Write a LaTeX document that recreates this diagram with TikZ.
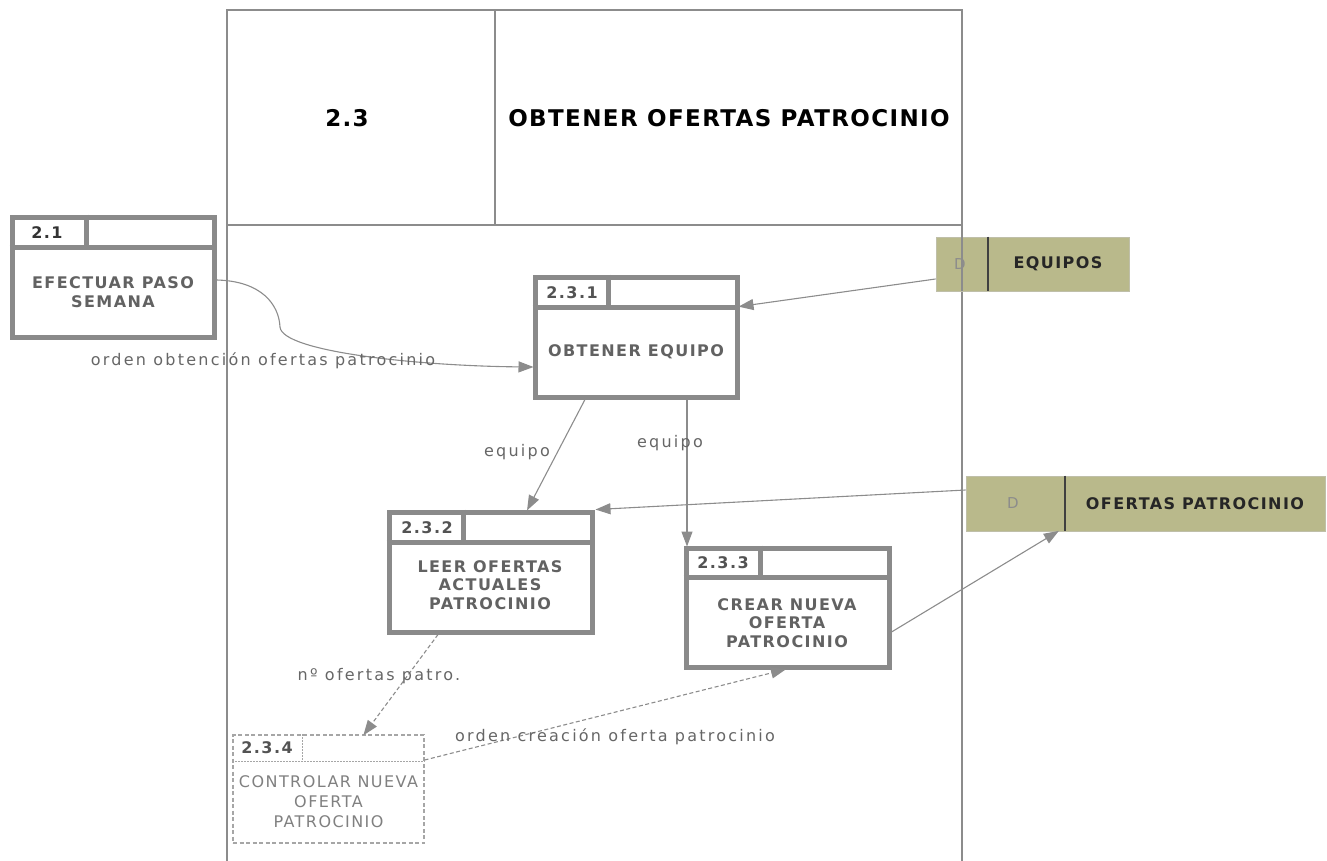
\documentclass[tikz,border=0pt]{standalone}
\usepackage{fontspec}
\setmainfont{DejaVu Sans}
\newfontfamily\boxfont[LetterSpace=9]{DejaVu Sans}
\newfontfamily\labelfont[LetterSpace=14]{DejaVu Sans}
\newfontfamily\titlefont[LetterSpace=6]{DejaVu Sans}
\usetikzlibrary{arrows.meta,calc}

\definecolor{framegray}{HTML}{8C8C8C}
\definecolor{boxgray}{HTML}{8A8A8A}
\definecolor{ctrlgray}{HTML}{A6A6A6}
\definecolor{textgray}{HTML}{626262}
\definecolor{labelgray}{HTML}{666666}
\definecolor{olive}{HTML}{B9B98B}

\tikzset{
  framebox/.style={draw=framegray, line width=1.4pt},
  procbox/.style={draw=boxgray, line width=5pt, fill=white, inner sep=0pt},
  procline/.style={draw=boxgray, line width=5pt},
  ctrlbox/.style={draw=ctrlgray, line width=1.1pt, dash pattern=on 4pt off 2.5pt, inner sep=0pt},
  ctrlline/.style={draw=ctrlgray, line width=1.1pt, dash pattern=on 1.5pt off 1.5pt},
  storebox/.style={fill=olive, draw=olive!80!black!60, line width=0.8pt, inner sep=0pt},
  storeline/.style={draw=black!75, line width=2pt},
  numtext/.style={font=\boxfont\bfseries\fontsize{16}{18}\selectfont, text=textgray!85!black, inner sep=0pt},
  bodytext/.style={font=\boxfont\bfseries\fontsize{16}{18.5}\selectfont, text=textgray, align=center, inner sep=0pt},
  ctrltext/.style={font=\boxfont\fontsize{16}{20}\selectfont, text=black!50, align=center, inner sep=0pt},
  titletext/.style={font=\titlefont\bfseries\fontsize{23}{26}\selectfont, text=black, inner sep=0pt},
  storetext/.style={font=\boxfont\bfseries\fontsize{16}{18}\selectfont, text=black!85, inner sep=0pt},
  dtext/.style={font=\boxfont\fontsize{15}{17}\selectfont, text=black!45, inner sep=0pt},
  flowlabel/.style={font=\labelfont\fontsize{16}{18}\selectfont, text=labelgray, inner sep=0pt},
  flow/.style={draw=framegray, line width=1.1pt, -{Triangle[length=15pt,width=11pt]}, shorten >=-1pt},
  ctrlflow/.style={flow, dash pattern=on 4pt off 2.5pt},
}

\begin{document}
\begin{tikzpicture}[x=1pt, y=-1pt]
\useasboundingbox (0,0) rectangle (1327,861);

% process 2.3 frame and its header
\draw[framebox] (227,861) -- (227,10) -- (962,10) -- (962,861);
\draw[framebox] (227,225) -- (962,225);
\draw[framebox] (495,10) -- (495,225);
\node[titletext] (frameid) at (347,118) {2.3};
\node[titletext] (frametitle) at (729,118) {OBTENER OFERTAS PATROCINIO};

% external process 2.1
\node[procbox, minimum width=202pt, minimum height=120pt] (p21) at (113,277) {};
\draw[procline] ([yshift=-33pt]p21.north west) -- ([yshift=-33pt]p21.north east);
\draw[procline] ([xshift=77pt]p21.north west) -- ([xshift=77pt,yshift=-33pt]p21.north west);
\node[numtext, text=black!80] (p21n) at (47,233) {2.1};
\node[bodytext] (p21t) at (113,292) {EFECTUAR PASO\\SEMANA};

% process 2.3.1
\node[procbox, minimum width=202pt, minimum height=120pt] (p231) at (636,337) {};
\draw[procline] ([yshift=-33pt]p231.north west) -- ([yshift=-33pt]p231.north east);
\draw[procline] ([xshift=76pt]p231.north west) -- ([xshift=76pt,yshift=-33pt]p231.north west);
\node[numtext] (p231n) at (572,293) {2.3.1};
\node[bodytext] (p231t) at (636,352) {OBTENER EQUIPO};

% process 2.3.2
\node[procbox, minimum width=203pt, minimum height=120pt] (p232) at (490.5,572) {};
\draw[procline] ([yshift=-33pt]p232.north west) -- ([yshift=-33pt]p232.north east);
\draw[procline] ([xshift=77pt]p232.north west) -- ([xshift=77pt,yshift=-33pt]p232.north west);
\node[numtext] (p232n) at (427,528) {2.3.2};
\node[bodytext] (p232t) at (490,585) {LEER OFERTAS\\ACTUALES\\PATROCINIO};

% process 2.3.3
\node[procbox, minimum width=203pt, minimum height=119pt] (p233) at (787.5,607.5) {};
\draw[procline] ([yshift=-32pt]p233.north west) -- ([yshift=-32pt]p233.north east);
\draw[procline] ([xshift=77pt]p233.north west) -- ([xshift=77pt,yshift=-32pt]p233.north west);
\node[numtext] (p233n) at (723,563) {2.3.3};
\node[bodytext] (p233t) at (787,623) {CREAR NUEVA\\OFERTA\\PATROCINIO};

% control process 2.3.4
\node[ctrlbox, minimum width=191pt, minimum height=108pt] (p234) at (328.5,789) {};
\draw[ctrlline] ([yshift=-27pt]p234.north west) -- ([yshift=-27pt]p234.north east);
\draw[ctrlline] ([xshift=70pt]p234.north west) -- ([xshift=70pt,yshift=-27pt]p234.north west);
\node[numtext] (p234n) at (267,748) {2.3.4};
\node[ctrltext] (p234t) at (328.5,802) {CONTROLAR NUEVA\\OFERTA\\PATROCINIO};

% data store EQUIPOS
\node[storebox, minimum width=193pt, minimum height=54pt] (dequipos) at (1032.5,264) {};
\draw[storeline] ([xshift=52pt]dequipos.north west) -- ([xshift=52pt]dequipos.south west);
\node[dtext] (dequiposd) at (960,264) {D};
\node[storetext] (dequipost) at (1058,264) {EQUIPOS};

% data store OFERTAS PATROCINIO
\node[storebox, minimum width=359pt, minimum height=55pt] (dofertas) at (1145.5,503.5) {};
\draw[storeline] ([xshift=99pt]dofertas.north west) -- ([xshift=99pt]dofertas.south west);
\node[dtext] (dofertasd) at (1013,503.5) {D};
\node[storetext] (dofertast) at (1195,503.5) {OFERTAS PATROCINIO};

% frame edge runs over the EQUIPOS store
\draw[framebox] (962,237) -- (962,291);

% data flows
\draw[flow] ([yshift=-3pt]p21.east) .. controls (262,281) and (279,305) .. (280,327)
  .. controls (282,352) and (420,366) .. ([yshift=-30pt]p231.west);
\node[flowlabel] (l1) at (263,361) {orden obtención ofertas patrocinio};

\draw[flow] ([yshift=-15pt]dequipos.west) -- ([yshift=-32pt]p231.north east);

\draw[flow] ([xshift=-51pt]p231.south) -- ([xshift=37pt]p232.north);
\node[flowlabel] (l2) at (517,452) {equipo};

\draw[flow] ([xshift=51pt]p231.south) -- ([xshift=-100.5pt]p233.north);
\node[flowlabel] (l3) at (670,443) {equipo};

\draw[flow] ([yshift=13.5pt]dofertas.west) -- ([xshift=2pt]p232.north east);

\draw[flow] ([yshift=-24.5pt]p233.east) -- ([xshift=-87.5pt]dofertas.south);

\draw[ctrlflow] ([xshift=-52.5pt]p232.south) -- ([xshift=35.5pt]p234.north);
\node[flowlabel] (l4) at (379,676) {nº ofertas patro.};

\draw[ctrlflow] ([yshift=29pt]p234.east) -- ([xshift=-2.5pt]p233.south);
\node[flowlabel] (l5) at (615,737) {orden creación oferta patrocinio};
\end{tikzpicture}
\end{document}
